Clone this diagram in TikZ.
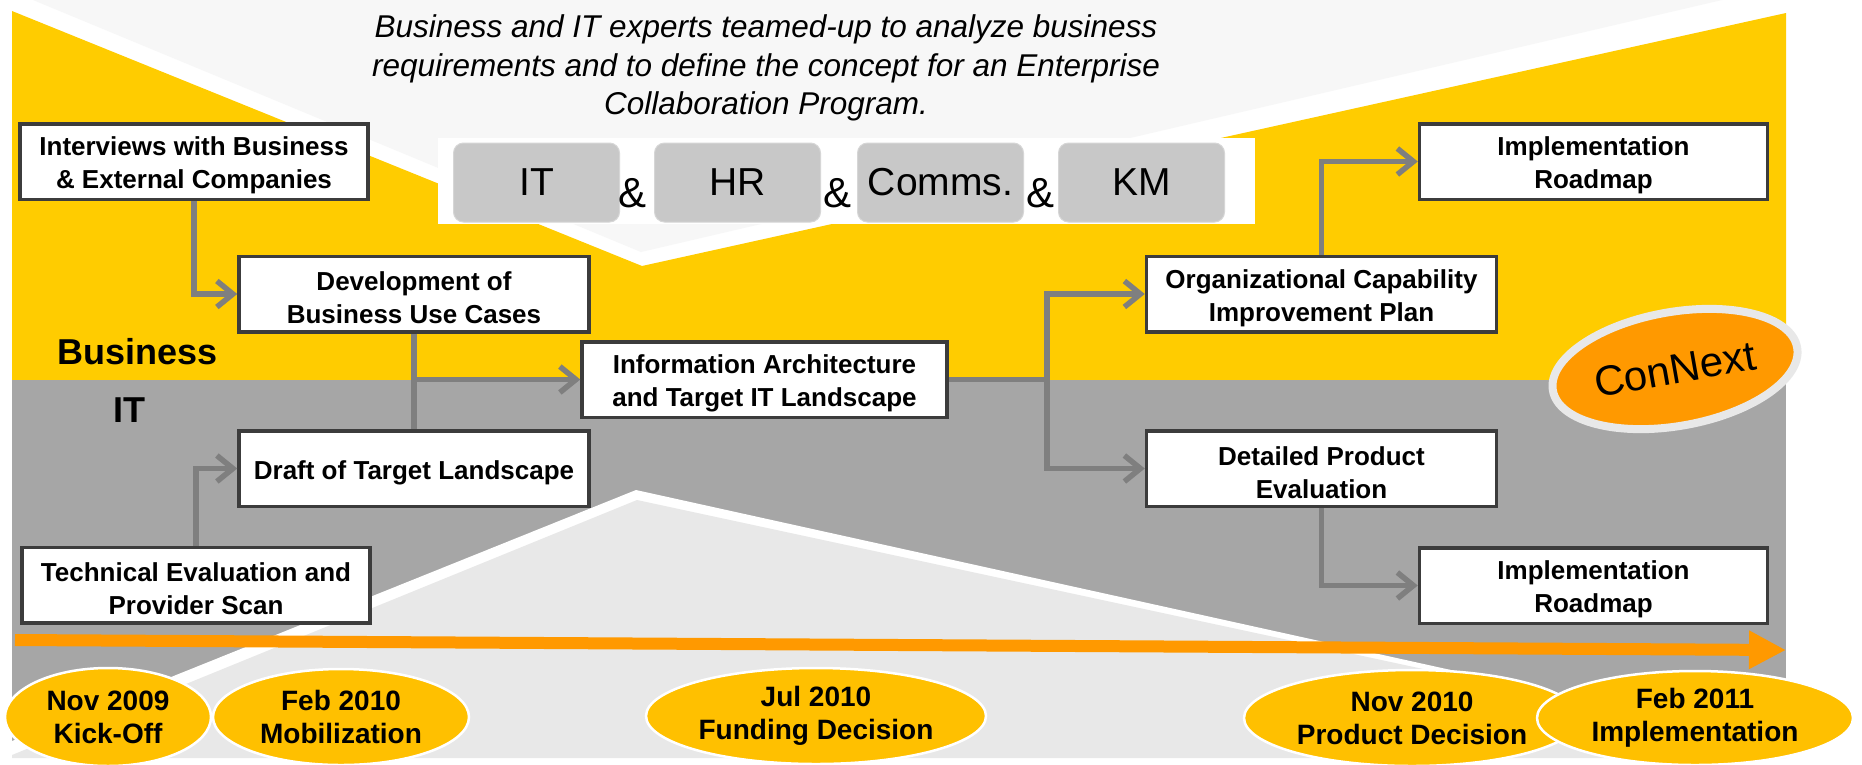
\documentclass[tikz,border=0pt]{standalone}
\usepackage{fontspec}
\setmainfont{Liberation Sans}
\usetikzlibrary{arrows.meta,shapes.geometric}
\definecolor{ylw}{HTML}{FFCC00}
\definecolor{midgray}{HTML}{A6A6A6}
\definecolor{topgray}{HTML}{F7F7F7}
\definecolor{botgray}{HTML}{E8E8E8}
\definecolor{boxline}{HTML}{3C3C3C}
\definecolor{conngray}{HTML}{7F7F7F}
\definecolor{orng}{HTML}{FF9900}
\definecolor{ellfill}{HTML}{FFC000}
\definecolor{tagfill}{HTML}{C8C8C8}
\definecolor{tagline}{HTML}{D6D6D6}
\definecolor{cnline}{HTML}{E8E8E8}
\newcommand{\boxstrut}{\rule{0pt}{27pt}}
\begin{document}
\begin{tikzpicture}[x=1pt,y=-1pt,
  stepbox/.style={draw=boxline, line width=3.5pt, fill=white, inner sep=0pt, align=center,
    font=\fontsize{26}{33}\selectfont\bfseries, minimum height=75.5pt, minimum width=348pt},
  tag/.style={draw=tagline, line width=1pt, fill=tagfill, rounded corners=10pt,
    minimum width=166pt, minimum height=79pt, inner sep=0pt, font=\fontsize{39}{45}\selectfont},
  amp/.style={font=\fontsize{42}{48}\selectfont, inner sep=0pt, anchor=base},
  conn/.style={draw=conngray, line width=5.5pt},
  arr/.style={conn, -{Straight Barb[length=16pt,width=26pt]}},
  milestone/.style={ellipse, fill=ellfill, draw=white, line width=2.5pt, inner sep=0pt, align=center,
    font=\fontsize{28}{33}\selectfont\bfseries},
  lane/.style={font=\fontsize{36}{40}\selectfont\bfseries, anchor=base west, inner sep=0pt},
]
\useasboundingbox (0,0) rectangle (1862,764);
\clip (0,0) rectangle (1862,764);
% background
\fill[white] (0,0) rectangle (1862,764);
\fill[topgray] (33,0) -- (641,252) -- (1722,0) -- cycle;
\fill[ylw] (12,11) -- (642,266) -- (1786,13) -- (1786,380) -- (12,380) -- cycle;
\fill[midgray] (12,380) rectangle (1786,758);
\fill[white] (12,741) -- (636,490) -- (1786,744) -- (1786,764) -- (12,764) -- cycle;
\fill[botgray] (12,755) -- (637,500) -- (1786,747) -- (1786,758) -- (12,758) -- cycle;

% intro text
\node[align=center, font=\fontsize{31.5}{38.5}\selectfont\itshape, inner sep=0pt] (intro) at (766,68)
  {Business and IT experts teamed-up to analyze business\\requirements and to define the concept for an Enterprise\\Collaboration Program.};

% team tags
\fill[white] (438,138) rectangle (1255,224);
\node[tag] (tIT) at (536.5,182.5) {IT};
\node[tag] (tHR) at (737.5,182.5) {HR};
\node[tag] (tCM) at (940.5,182.5) {Comms.};
\node[tag] (tKM) at (1141.5,182.5) {KM};
\node[amp] (a1) at (632,207) {\&};
\node[amp] (a2) at (837,207) {\&};
\node[amp] (a3) at (1040,207) {\&};

% lane labels
\node[lane] (lbiz) at (57,364) {Business};
\node[lane] (lit) at (113,422) {IT};

% steps
\node[stepbox] (intv) at (194,161.5) {\boxstrut Interviews with Business\\\& External Companies};
\node[stepbox, minimum width=350pt] (dev) at (414,294) {\boxstrut Development of\\Business Use Cases};
\node[stepbox, minimum width=365pt] (info) at (764.5,379.5) {\boxstrut Information Architecture\\and Target IT Landscape};
\node[stepbox, minimum width=350pt] (draft) at (414,468.5) {\boxstrut Draft of Target Landscape};
\node[stepbox] (tech) at (196,585) {\boxstrut Technical Evaluation and\\Provider Scan};
\node[stepbox, minimum width=350pt] (org) at (1321.5,294) {\boxstrut Organizational Capability\\Improvement Plan};
\node[stepbox] (impl1) at (1593.5,161.5) {\boxstrut Implementation\\Roadmap};
\node[stepbox, minimum width=350pt] (det) at (1321.5,468.5) {\boxstrut Detailed Product\\Evaluation};
\node[stepbox] (impl2) at (1593.5,585.5) {\boxstrut Implementation\\Roadmap};

% connectors
\draw[arr] (intv.south) |- (dev.west);
\draw[arr] (tech.north) |- (draft.west);
\draw[conn] (dev.south) -- (draft.north);
\coordinate (jl) at (dev.south |- info.west);
\draw[arr] (jl) -- (info.west);
\coordinate (jr) at (1047,379.5);
\draw[conn] (info.east) -- (jr);
\draw[arr] (jr) |- (org.west);
\draw[arr] (jr) |- (det.west);
\draw[arr] (org.north) |- (impl1.west);
\draw[arr] (det.south) |- (impl2.west);

% ConNext badge
\node[ellipse, fill=orng, draw=cnline, line width=8pt, minimum width=248pt, minimum height=114pt,
  rotate=10, inner sep=0pt, font=\fontsize{42}{48}\selectfont] (cnx) at (1675,369) {ConNext};

% timeline
\coordinate (tl0) at (15,640);
\coordinate (tl1) at (1786,650);
\draw[orng, line width=12pt, -{Triangle[length=37pt,width=36pt]}] (tl0) -- (tl1);

% milestones
\node[milestone, minimum width=206pt, minimum height=98pt] (m1) at (108,717) {Nov 2009\\Kick-Off};
\node[milestone, minimum width=256pt, minimum height=96pt] (m2) at (341,717) {Feb 2010\\Mobilization};
\node[milestone, minimum width=340pt, minimum height=96pt] (m3) at (816,716) {Jul 2010\\Funding Decision};
\node[milestone, minimum width=336pt, minimum height=96pt] (m4) at (1412,718) {Nov 2010\\Product Decision};
\node[milestone, minimum width=316pt, minimum height=94pt] (m5) at (1695,718) {Feb 2011\\Implementation};
\end{tikzpicture}
\end{document}
